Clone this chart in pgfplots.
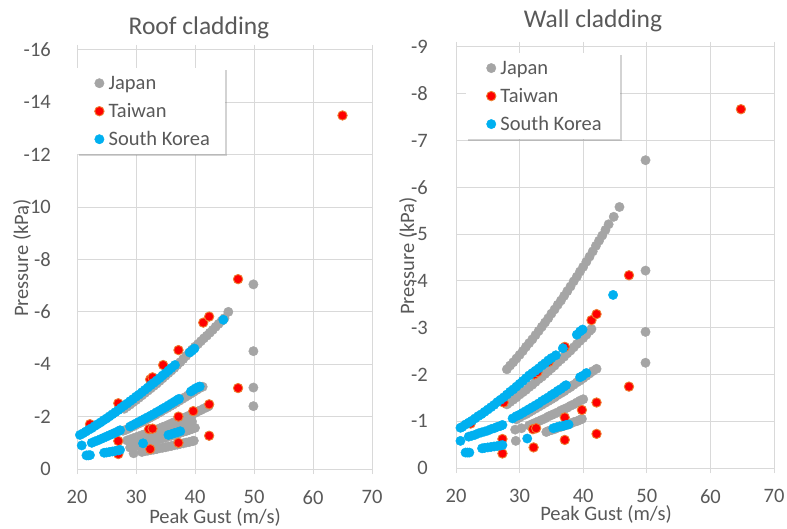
\documentclass[border=0pt]{standalone}
\usepackage{fontspec}
\setmainfont{Carlito}
\usepackage{pgfplots}
\pgfplotsset{compat=1.18}
\usetikzlibrary{shadows}

\definecolor{txt}{HTML}{595959}
\definecolor{jp}{HTML}{A5A5A5}
\definecolor{tw}{HTML}{FF0000}
\definecolor{twedge}{HTML}{ED7D31}
\definecolor{kr}{HTML}{00B0F0}
\definecolor{gridc}{HTML}{D9D9D9}
\newcommand\fs{\fontsize{20.5}{24.6}\selectfont}

\pgfplotsset{
  cladding/.style={
    scale only axis,
    xmin=20, xmax=70, xtick={20,30,...,70},
    y dir=reverse, ymax=0,
    grid=major,
    grid style={gridc, line width=1pt},
    axis line style={gridc, line width=1pt},
    tick style={gridc, line width=1pt},
    tick align=outside, major tick length=5pt,
    ytick style={draw=none},
    ticklabel style={font=\fs, text=txt},
    xticklabel style={anchor=north, inner sep=0pt, yshift=-16pt},
    /pgf/number format/assume math mode=true,
    clip=false,
    legend cell align=left,
    legend style={font=\fs, text=txt, draw=none, fill=white,
      drop shadow={shadow xshift=2pt, shadow yshift=-2pt, opacity=0.35},
      inner xsep=14pt, inner ysep=1pt,
      nodes={inner sep=1pt, text height=19.5pt, text depth=6.5pt}},
  },
  dot/.style={only marks, mark=*, mark size=4.7pt,
    legend image code/.code={\path (-8pt,0pt) (8pt,0pt);
      \draw[##1] plot coordinates {(0pt,0pt)};}},
  jpn/.style={dot, mark options={fill=jp, draw=jp}},
  twn/.style={dot, mark options={fill=tw, draw=twedge, line width=0.9pt}},
  kor/.style={dot, mark options={fill=kr, draw=kr}},
}

%% Roof cladding
\pgfplotstableread{
x y
28 -2.30
28.5 -2.38
29 -2.46
29.5 -2.55
30 -2.63
30.5 -2.72
31 -2.81
31.5 -2.90
32 -2.99
32.5 -3.08
33 -3.17
33.5 -3.26
34 -3.36
34.5 -3.46
35 -3.56
35.5 -3.66
36 -3.76
36.5 -3.86
37 -3.97
37.5 -4.08
38 -4.20
38.5 -4.32
39 -4.44
39.5 -4.56
40 -4.67
40.5 -4.77
41 -4.88
41.5 -4.99
42 -5.09
42.5 -5.20
43 -5.31
43.5 -5.43
44 -5.54
44.5 -5.65
45 -5.76
45.65 -6.00
27.8 -1.46
28.3 -1.50
28.8 -1.55
29.3 -1.61
29.8 -1.66
30.3 -1.72
30.8 -1.77
31.3 -1.83
31.8 -1.89
32.3 -1.95
32.8 -2.01
33.3 -2.07
33.8 -2.14
34.3 -2.20
34.8 -2.27
35.3 -2.33
35.8 -2.40
36.3 -2.46
36.8 -2.53
37.3 -2.60
37.8 -2.67
38.3 -2.74
38.8 -2.81
39.3 -2.88
39.8 -2.95
40.3 -3.02
40.8 -3.09
41.3 -3.14
28.5 -1.09
29 -1.13
29.5 -1.17
30 -1.21
30.5 -1.25
31 -1.29
31.5 -1.33
32 -1.37
32.5 -1.42
33 -1.46
33.5 -1.50
34 -1.55
34.5 -1.60
35 -1.64
35.5 -1.69
36 -1.74
36.5 -1.79
37 -1.83
37.5 -1.88
38 -1.94
38.5 -1.99
39 -2.04
39.5 -2.09
40 -2.14
40.5 -2.20
41 -2.25
41.5 -2.31
42 -2.36
42.3 -2.40
29.5 -1.01
30 -1.04
30.5 -1.08
31 -1.12
31.5 -1.15
32 -1.19
32.5 -1.23
33 -1.26
33.5 -1.30
34 -1.34
34.5 -1.38
35 -1.42
35.5 -1.46
36 -1.50
36.5 -1.55
37 -1.59
37.5 -1.63
38 -1.68
38.5 -1.72
39 -1.76
39.5 -1.81
29 -0.82
29.5 -0.85
30 -0.88
30.5 -0.91
31 -0.94
31.5 -0.97
32 -1.00
32.5 -1.04
33 -1.07
33.5 -1.10
34 -1.13
34.5 -1.17
35 -1.20
35.5 -1.24
36 -1.27
36.5 -1.31
37 -1.34
37.5 -1.38
38 -1.42
38.5 -1.45
39 -1.49
39.5 -1.53
40 -1.57
31 -0.65
31.5 -0.68
32 -0.70
32.5 -0.72
33 -0.74
33.5 -0.76
34 -0.79
34.5 -0.81
35 -0.83
35.5 -0.86
36 -0.88
36.5 -0.91
37 -0.93
37.5 -0.96
38 -0.98
38.5 -1.01
39 -1.03
39.5 -1.06
39.8 -1.08
29.6 -0.60
49.9 -7.05
49.9 -4.50
49.9 -3.11
49.9 -2.40
}\roofjp

\pgfplotstableread{
x y
22.2 -1.71
27.0 -2.51
27.0 -1.07
27.0 -0.57
32.4 -3.42
32.8 -3.50
32.2 -1.52
32.8 -1.54
32.4 -0.76
34.6 -3.97
37.2 -4.54
37.2 -2.00
37.2 -1.00
39.7 -2.21
41.4 -5.59
42.4 -5.82
42.4 -2.47
42.4 -1.27
47.3 -7.25
47.3 -3.09
65.0 -13.50
}\rooftw

\pgfplotstableread{
x y
20.5 -1.30
21 -1.36
21.5 -1.43
22 -1.50
22.5 -1.56
23 -1.64
23.5 -1.71
24 -1.78
24.5 -1.86
25 -1.93
25.5 -2.01
26 -2.09
26.5 -2.17
27 -2.25
27.5 -2.34
28 -2.42
28.5 -2.50
29 -2.59
29.5 -2.67
30 -2.76
30.5 -2.84
31 -2.93
31.5 -3.02
32 -3.11
32.5 -3.20
33 -3.29
33.5 -3.38
34 -3.47
34.5 -3.57
35 -3.66
35.5 -3.76
36 -3.86
36.6 -3.97
39.1 -4.45
39.5 -4.52
39.9 -4.60
44.8 -5.70
22.5 -1.00
23 -1.05
23.5 -1.09
24 -1.14
24.5 -1.19
25 -1.24
25.5 -1.29
26 -1.34
26.5 -1.39
27 -1.44
27.3 -1.48
29 -1.62
29.5 -1.68
30 -1.74
30.5 -1.80
31 -1.86
31.5 -1.92
32 -1.98
32.5 -2.04
33 -2.10
33.5 -2.17
34 -2.23
34.5 -2.30
35 -2.36
35.5 -2.43
36 -2.50
36.5 -2.57
37 -2.64
37.3 -2.68
39.3 -2.96
39.7 -3.02
40.1 -3.08
40.5 -3.12
40.8 -3.15
20.8 -0.90
21.6 -0.52
21.9 -0.52
22.2 -0.53
24.6 -0.62
25 -0.63
25.5 -0.65
26 -0.67
26.5 -0.69
27 -0.71
27.3 -0.73
31.2 -0.98
35.5 -1.30
36 -1.33
36.5 -1.37
37 -1.40
37.5 -1.44
}\roofkr

%% Wall cladding
\pgfplotstableread{
x y
28 -2.11
28.5 -2.19
29 -2.26
29.5 -2.34
30 -2.42
30.5 -2.50
31 -2.59
31.5 -2.67
32 -2.75
32.5 -2.84
33 -2.93
33.5 -3.02
34 -3.11
34.5 -3.20
35 -3.30
35.5 -3.39
36 -3.49
36.5 -3.58
37 -3.68
37.5 -3.78
38 -3.88
38.5 -3.99
39 -4.09
39.5 -4.20
40 -4.30
40.5 -4.41
41 -4.52
41.5 -4.63
42 -4.75
42.5 -4.86
43 -4.97
43.5 -5.09
44 -5.21
44.8 -5.37
45.7 -5.58
28 -1.36
28.5 -1.41
29 -1.46
29.5 -1.51
30 -1.57
30.5 -1.62
31 -1.67
31.5 -1.73
32 -1.78
32.5 -1.84
33 -1.90
33.5 -1.95
34 -2.01
34.5 -2.07
35 -2.13
35.5 -2.19
36 -2.26
36.5 -2.32
37 -2.38
37.5 -2.45
38 -2.51
38.5 -2.58
39 -2.65
39.5 -2.72
40 -2.78
40.5 -2.85
41 -2.93
41.3 -2.97
29.5 -1.04
30 -1.08
30.5 -1.12
31 -1.15
31.5 -1.19
32 -1.23
32.5 -1.27
33 -1.31
33.5 -1.35
34 -1.39
34.5 -1.43
35 -1.47
35.5 -1.51
36 -1.56
36.5 -1.60
37 -1.64
37.5 -1.69
38 -1.73
38.5 -1.78
39 -1.83
39.5 -1.87
40 -1.92
40.5 -1.97
41 -2.02
41.5 -2.07
42.1 -2.12
31.5 -0.91
32 -0.94
32.5 -0.97
33 -1.00
33.5 -1.03
34 -1.06
34.5 -1.10
35 -1.13
35.5 -1.16
36 -1.19
36.5 -1.23
37 -1.26
37.5 -1.29
38 -1.33
38.5 -1.36
39 -1.40
39.5 -1.44
40 -1.47
34.2 -0.77
34.5 -0.79
35 -0.81
35.5 -0.83
36 -0.86
36.5 -0.88
37 -0.90
37.5 -0.93
38 -0.95
38.5 -0.98
39 -1.00
39.5 -1.03
39.8 -1.05
29.3 -0.82
30.3 -0.85
29.4 -0.58
49.8 -6.58
49.8 -4.22
49.8 -2.91
49.8 -2.25
}\walljp

\pgfplotstableread{
x y
22.3 -0.95
27.5 -1.40
27.3 -0.62
27.3 -0.31
32.3 -2.00
32.8 -2.05
32.1 -0.83
32.6 -0.85
32.2 -0.44
34.6 -2.27
37.1 -2.59
37.1 -1.08
37.1 -0.60
39.8 -1.24
41.3 -3.16
42.1 -3.29
42.1 -1.40
42.1 -0.73
47.2 -4.12
47.2 -1.74
64.8 -7.67
}\walltw

\pgfplotstableread{
x y
20.7 -0.86
21 -0.88
21.5 -0.93
22 -0.97
22.5 -1.01
23 -1.06
23.5 -1.11
24 -1.15
24.5 -1.20
25 -1.25
25.5 -1.30
26 -1.35
26.5 -1.41
27 -1.46
27.5 -1.51
28 -1.57
28.5 -1.63
29 -1.68
29.5 -1.74
30 -1.80
30.5 -1.86
31 -1.92
31.5 -1.98
32 -2.03
32.5 -2.08
33 -2.13
33.5 -2.19
34 -2.24
34.5 -2.30
35 -2.35
35.7 -2.41
36.8 -2.56
39.0 -2.85
39.5 -2.92
39.9 -2.96
44.7 -3.70
22 -0.67
22.5 -0.69
23 -0.71
23.5 -0.74
24 -0.76
24.5 -0.78
25 -0.80
25.5 -0.83
26 -0.85
26.5 -0.88
27 -0.90
27.3 -0.92
28.9 -1.06
29.5 -1.11
30 -1.14
30.5 -1.18
31 -1.22
31.5 -1.26
32 -1.30
32.5 -1.34
33 -1.38
33.5 -1.43
34 -1.47
34.5 -1.51
35 -1.56
35.5 -1.60
36 -1.65
36.5 -1.69
37 -1.74
37.3 -1.77
39.5 -1.94
39.9 -1.97
40.5 -2.03
20.7 -0.58
21.5 -0.33
21.8 -0.33
22.1 -0.33
24.1 -0.42
24.5 -0.43
25 -0.44
25.5 -0.45
26 -0.46
26.5 -0.47
27 -0.48
27.3 -0.49
31.2 -0.63
35.3 -0.85
35.8 -0.87
36.3 -0.89
36.8 -0.90
37.3 -0.92
37.7 -0.93
}\wallkr

\begin{document}
\begin{tikzpicture}[x=1pt, y=1pt]
\useasboundingbox (0,0) rectangle (787,529);

\begin{axis}[cladding,
  at={(77pt,60pt)}, anchor=south west,
  width=295pt, height=419pt,
  ymin=-16, ytick={-16,-14,...,0},
  yticklabel style={anchor=east, inner sep=0pt, xshift=-21pt},
  legend style={at={(0,0.957)}, anchor=north west},
]
\addplot[jpn] table {\roofjp};
\addplot[twn] table {\rooftw};
\addplot[kor] table {\roofkr};
\legend{Japan, Taiwan, South Korea}
\end{axis}

\begin{axis}[cladding,
  at={(456pt,61pt)}, anchor=south west,
  width=318pt, height=421pt,
  ymin=-9, ytick={-9,-8,...,0},
  yticklabel style={anchor=east, inner sep=0pt, xshift=-23pt},
  legend style={at={(0.031,0.986)}, anchor=north west, inner xsep=17pt},
]
\addplot[jpn] table {\walljp};
\addplot[twn] table {\walltw};
\addplot[kor] table {\wallkr};
\legend{Japan, Taiwan, South Korea}
\end{axis}

\node[anchor=base, text=txt, font=\fontsize{25.5}{30}\selectfont] at (199,494) {Roof cladding};
\node[anchor=base, text=txt, font=\fontsize{25.5}{30}\selectfont] at (593,501) {Wall cladding};
\node[anchor=base, text=txt, font=\fs] at (215,5) {Peak Gust (m/s)};
\node[anchor=base, text=txt, font=\fs] at (606,8) {Peak Gust (m/s)};
\node[rotate=90, text=txt, font=\fs] at (22,271) {Pressure (kPa)};
\node[rotate=90, text=txt, font=\fs] at (408,273) {Pressure (kPa)};
\end{tikzpicture}
\end{document}
